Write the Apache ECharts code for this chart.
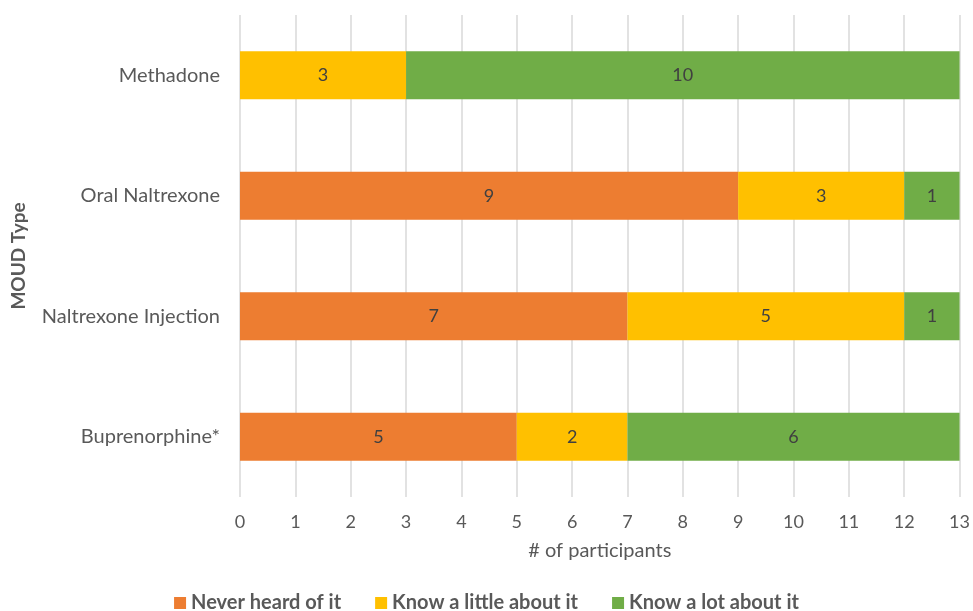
<!DOCTYPE html>
<html>
<head>
<meta charset="utf-8">
<script src="https://cdn.jsdelivr.net/npm/echarts@6/dist/echarts.min.js"></script>
<style>html,body{margin:0;padding:0;background:#fff}#c{width:973px;height:611px}</style>
</head>
<body>
<div id="c"></div>
<script>
const categories = ['Buprenorphine*', 'Naltrexone Injection', 'Oral Naltrexone', 'Methadone'];
const neverHeard = [5, 7, 9, 0];
const knowLittle = [2, 5, 3, 3];
const knowLot = [6, 1, 1, 10];
const seriesNames = ['Never heard of it', 'Know a little about it', 'Know a lot about it'];
const xTicks = [0, 13, 1];

const font = 'Lato, "Open Sans", sans-serif';
const colors = ['#ED7D31', '#FFC000', '#70AD47'];
const chart = echarts.init(document.getElementById('c'));
const mk = (name, data, i) => ({
  name, type: 'bar', stack: 'total', data, barCategoryGap: '60%',
  itemStyle: { color: colors[i] },
  label: { show: true, position: 'inside', color: '#404040', fontSize: 18, fontFamily: font,
    formatter: p => p.value ? String(p.value) : '' }
});
chart.setOption({
  animation: false,
  textStyle: { fontFamily: font },
  grid: { left: 240, right: 8, top: 15, bottom: 114, containLabel: false },
  legend: {
    bottom: -7, left: 'center', itemWidth: 12, itemHeight: 12, itemGap: 34,
    icon: 'rect',
    textStyle: { fontSize: 20, fontWeight: 'bold', color: '#595959', fontFamily: font },
    data: seriesNames
  },
  xAxis: {
    type: 'value', min: xTicks[0], max: xTicks[1], interval: xTicks[2],
    name: '# of participants', nameLocation: 'middle', nameGap: 44,
    nameTextStyle: { fontSize: 20, color: '#595959', fontFamily: font },
    axisLine: { show: false }, axisTick: { show: false },
    axisLabel: { fontSize: 18, color: '#595959', margin: 16, fontFamily: font },
    splitLine: { lineStyle: { color: '#D9D9D9', width: 1.5 } }
  },
  yAxis: {
    type: 'category', data: categories,
    name: 'MOUD Type', nameLocation: 'middle', nameGap: 212, nameRotate: 90,
    nameTextStyle: { fontSize: 19, fontWeight: 'bold', color: '#595959', fontFamily: font },
    axisLine: { show: false }, axisTick: { show: false },
    axisLabel: { fontSize: 20, color: '#595959', margin: 20, fontFamily: font }
  },
  series: [mk(seriesNames[0], neverHeard, 0), mk(seriesNames[1], knowLittle, 1), mk(seriesNames[2], knowLot, 2)]
});
</script>
</body>
</html>
